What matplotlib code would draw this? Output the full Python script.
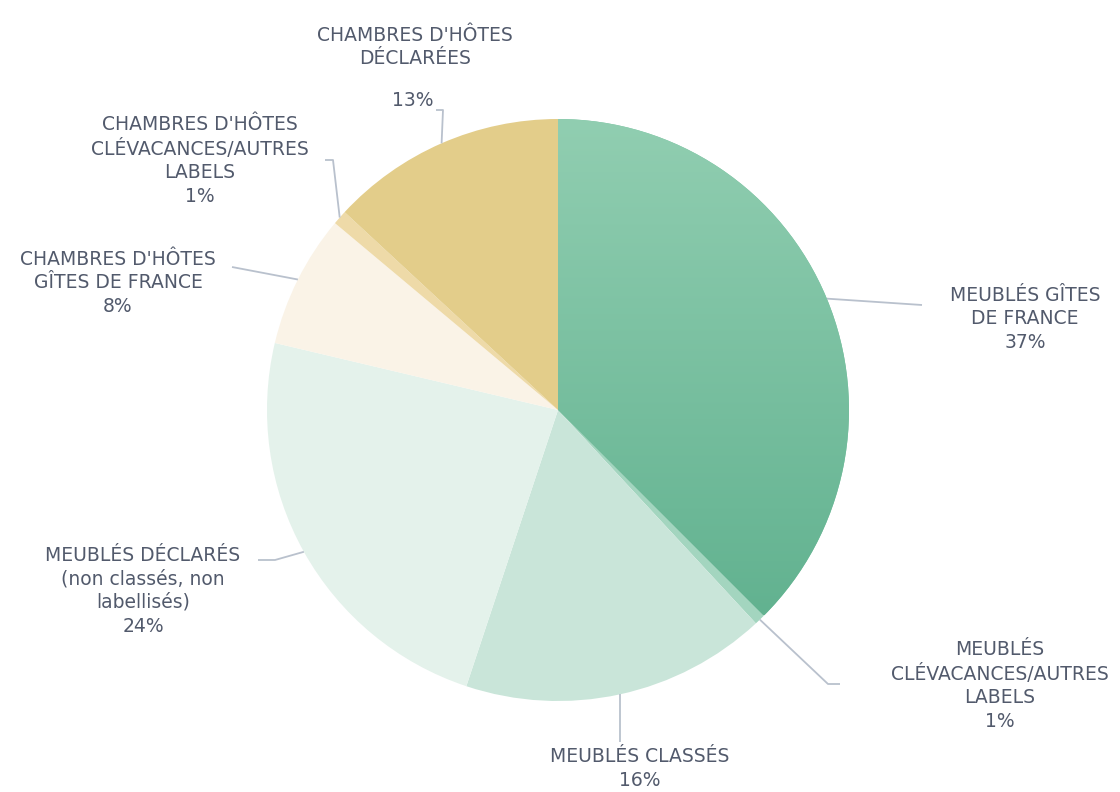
import numpy as np
import matplotlib
matplotlib.use("Agg")
import matplotlib.pyplot as plt
from matplotlib.colors import LinearSegmentedColormap

# data (clockwise from 12 o'clock)
labels = [
    "MEUBLÉS GÎTES\nDE FRANCE",
    "MEUBLÉS\nCLÉVACANCES/AUTRES\nLABELS",
    "MEUBLÉS CLASSÉS",
    "MEUBLÉS DÉCLARÉS\n(non classés, non\nlabellisés)",
    "CHAMBRES D'HÔTES\nGÎTES DE FRANCE",
    "CHAMBRES D'HÔTES\nCLÉVACANCES/AUTRES\nLABELS",
    "CHAMBRES D'HÔTES\nDÉCLARÉES",
]
# slice sizes as measured on the drawing, and the rounded figures printed
shares = [37.5, 0.6, 17.0, 23.6, 7.4, 0.8, 13.1]
pct_text = ["37%", "1%", "16%", "24%", "8%", "1%", "13%"]
colors = ["#7cc4a3", "#a3d5bf", "#c9e5d9", "#e4f2eb", "#faf3e7", "#eedaa8", "#e3cd8a"]

W, H = 1120, 792
cx, cy, R = 558, H - 410, 291

# label placement in image pixels: text centre x, first line y, leader path
label_pos = [
    (1025, 296, [(922, 305)]),
    (1000, 650, [(828, 684), (840, 684)]),
    (640, 757, [(None, 742)]),
    (143, 556, [(275, 560), (258, 560)]),
    (118, 260, [(232, 267)]),
    (200, 125, [(333, 160), (325, 160)]),
    (415, 26, [(443, 110), (436, 110)]),
]
pct_pos = {6: (413, 101)}

txt_color = "#525a6c"
line_color = "#b9c1cd"

fig = plt.figure(figsize=(W / 100, H / 100), dpi=100)
ax = fig.add_axes([0, 0, 1, 1])

wedges, _ = ax.pie(shares, colors=colors, startangle=90, counterclock=False,
                   center=(cx, cy), radius=R, frame=True,
                   wedgeprops=dict(linewidth=0))

# vertical gradient on the biggest slice
cmap = LinearSegmentedColormap.from_list("g", ["#91ceb1", "#62b290"])
grad = np.linspace(0, 1, 256).reshape(-1, 1)
im = ax.imshow(grad, cmap=cmap, extent=(cx, cx + R, H - 615, H - 118),
               origin="upper", aspect="auto", zorder=wedges[0].get_zorder() + 0.1)
im.set_clip_path(wedges[0])

total = sum(shares)
cum = 0
for i, (lab, v) in enumerate(zip(labels, shares)):
    mid = 90 - 360 * (cum + v / 2) / total
    cum += v
    ex = cx + R * np.cos(np.radians(mid))
    ey = cy + R * np.sin(np.radians(mid))
    tx, ty, path = label_pos[i]
    xs, ys = [ex], [ey]
    for px, py in path:
        xs.append(ex if px is None else px)
        ys.append(H - py)
    ax.plot(xs, ys, color=line_color, lw=1.3, zorder=1, solid_capstyle="butt")
    if i in pct_pos:
        ax.text(tx, H - ty, lab, ha="center", va="top", fontsize=13.5,
                color=txt_color, linespacing=1.3)
        px, py = pct_pos[i]
        ax.text(px, H - py, pct_text[i], ha="center", va="center",
                fontsize=13.5, color=txt_color)
    else:
        ax.text(tx, H - ty + 10, f"{lab}\n{pct_text[i]}", ha="center", va="top",
                fontsize=13.5, color=txt_color, linespacing=1.3)

ax.set_xlim(0, W)
ax.set_ylim(0, H)
ax.set_aspect("equal")
ax.axis("off")

fig.savefig("out.png", dpi=100, facecolor="white")
